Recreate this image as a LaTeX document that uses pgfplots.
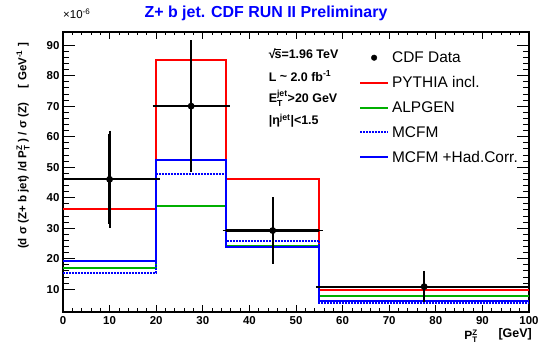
\documentclass[border=0pt]{standalone}
\usepackage{pgfplots}
\pgfplotsset{compat=1.18}
\usepackage{amsmath}
\usepackage{fontspec}
\setmainfont{Liberation Sans}
\definecolor{rgreen}{RGB}{0,175,0}
\definecolor{rblue}{RGB}{0,0,255}
\definecolor{rred}{RGB}{255,0,0}
\begin{document}
\begin{tikzpicture}
\begin{axis}[name=ax, scale only axis, width=466bp, height=280bp,
  xmin=0, xmax=100, ymin=2.5, ymax=94.3,
  xtick={0,10,...,100}, minor x tick num=4,
  ytick={10,20,...,90}, minor y tick num=4,
  tick align=inside,
  major tick length=12bp, minor tick length=6bp,
  xtick style={/pgfplots/major tick length=7bp, /pgfplots/minor tick length=3.5bp},
  axis line style={line width=1.2bp},
  every tick/.style={black, line width=0.8bp},
  /pgf/number format/assume math mode=true,
  ticklabel style={font=\bfseries\fontsize{11.5}{13}\selectfont},
  xticklabel style={yshift=-1bp},
  legend style={draw=none, fill=none, at={(axis cs:63.5,88.6)}, anchor=north west,
    font=\fontsize{15.5}{17}\selectfont, row sep=8.5bp, cells={anchor=west},
    inner sep=0pt, nodes={inner xsep=3bp}},
  legend image code/.code={\draw[mark repeat=2,mark phase=2,#1] plot coordinates {(0bp,0bp)(14bp,0bp)(28bp,0bp)};},
]
\addlegendimage{only marks, mark=*, black, mark size=2.8bp}
\addlegendentry{CDF Data}
\addlegendimage{rred, line width=2bp}
\addlegendentry{PYTHIA incl.}
\addlegendimage{rgreen, line width=2bp}
\addlegendentry{ALPGEN}
\addlegendimage{rblue, line width=2bp, densely dotted}
\addlegendentry{MCFM}
\addlegendimage{rblue, line width=2bp}
\addlegendentry{MCFM +Had.Corr.}

% PYTHIA incl.
\addplot[forget plot, rred, line width=2bp, const plot] coordinates {(0,36.2) (20,85.0) (35,46.0) (55,9.7) (100,9.7)};
% ALPGEN
\addplot[forget plot, rgreen, line width=2bp, const plot] coordinates {(0,16.8) (20,37.4) (35,24.2) (55,7.8) (100,7.8)};
% MCFM + Had. Corr.
\addplot[forget plot, rblue, line width=2bp, const plot] coordinates {(0,19.3) (20,52.2) (35,23.9) (55,6.2) (100,6.2)};
% MCFM
\addplot[forget plot, rblue, line width=2bp, densely dotted, const plot] coordinates {(0,15.3) (20,47.7) (35,25.8) (55,5.6) (100,5.6)};
% CDF data
\addplot[forget plot, black, line width=2.3bp, only marks, mark=*, mark size=2.2bp,
  error bars/.cd, x dir=both, x explicit, y dir=both, y explicit,
  error bar style={line width=2.3bp, solid}, error mark options={mark size=3.5bp, line width=1.8bp}]
  coordinates {
  (10,46.0) +- (10,14.8)
  (27.5,70.0) +- (7.5,20.5)
  (45,29.2) +- (10,9.8)
  (77.5,10.8) +- (22.5,4.0)
};

\node[anchor=west, font=\bfseries\fontsize{12.5}{14}\selectfont] at (axis cs:43.4,87.2) {√\kern-0.08em\rlap{\rule[0.74em]{0.52em}{0.07em}}s=1.96 TeV};
\node[anchor=west, font=\bfseries\fontsize{12.5}{14}\selectfont] at (axis cs:43.4,79.8) {L \raisebox{0.1ex}{\textasciitilde} 2.0 fb\textsuperscript{-1}};
\node[anchor=west, font=\bfseries\fontsize{12.5}{14}\selectfont] at (axis cs:43.4,72.5) {E$^{\text{jet}}_{\text{T}}$>20 GeV};
\node[anchor=west, font=\bfseries\fontsize{12.5}{14}\selectfont] at (axis cs:43.4,65.3) {|η\textsuperscript{jet}|<1.5};
\end{axis}
% outside-axis texts
\node[anchor=west, font=\fontsize{11.5}{12}\selectfont, inner sep=0pt] at ([yshift=18bp]ax.north west) {×10$^{\text{-6}}$};
\node[anchor=center, text=rblue, font=\bfseries\fontsize{16}{18}\selectfont, inner sep=0pt] at ([shift={(203bp,19bp)}]ax.north west) {Z+ b jet. CDF RUN II Preliminary};
\node[rotate=90, anchor=center, font=\bfseries\fontsize{11.6}{13}\selectfont, inner sep=0pt] at ([shift={(-40bp,-114bp)}]ax.north west) {(d σ (Z+ b jet) /d P$^{\text{Z}}_{\text{T}}$ ) / σ (Z) \quad [ GeV$^{\text{-1}}$ ]};
\node[anchor=center, font=\bfseries\fontsize{12}{14}\selectfont, inner sep=0pt] at ([shift={(-58bp,-24bp)}]ax.south east) {P$^{\text{Z}}_{\text{T}}$};
\node[anchor=east, font=\bfseries\fontsize{12.5}{14}\selectfont, inner sep=0pt] at ([shift={(3bp,-22bp)}]ax.south east) {[GeV]};
\pgfresetboundingbox
\path ([shift={(-63bp,-33bp)}]ax.south west) rectangle ([shift={(16bp,32bp)}]ax.north east);
\end{tikzpicture}
\end{document}
